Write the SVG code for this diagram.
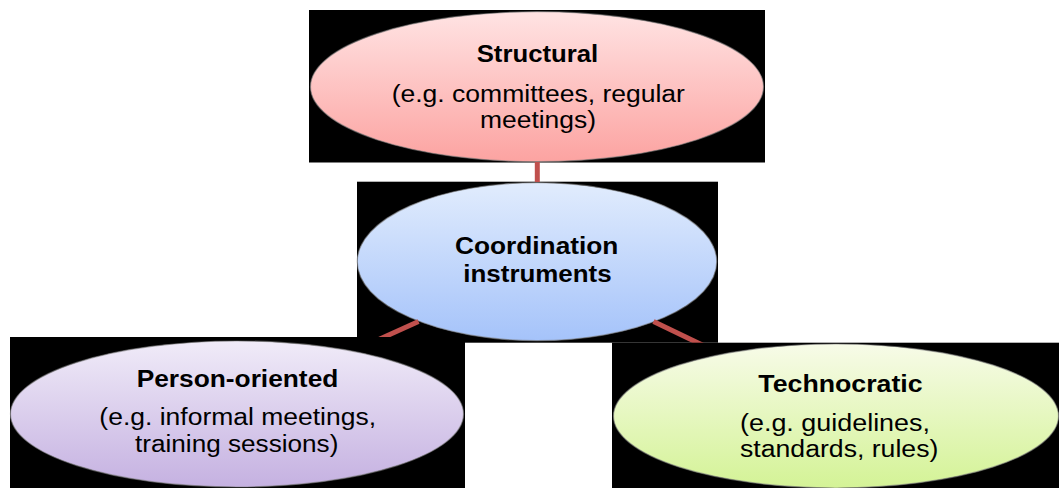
<svg xmlns="http://www.w3.org/2000/svg" width="1059" height="488" viewBox="0 0 1059 488">
  <style>
    .bg { fill: #000000; }
    .ell { stroke: #7f7f7f; stroke-opacity: 0.6; stroke-width: 1.2; }
    .title { font-family: "Liberation Sans", Arial, sans-serif; font-size: 23px; font-weight: bold; fill: #000; text-anchor: middle; }
    .sub { font-family: "Liberation Sans", Arial, sans-serif; font-size: 23px; fill: #000; text-anchor: middle; }
    .conn { stroke: #c0504d; stroke-width: 5; fill: none; }
  </style>
  <defs>
    <linearGradient id="gPink" x1="0" y1="0" x2="0" y2="1">
      <stop offset="0" stop-color="#ffe3e3"/>
      <stop offset="1" stop-color="#fca3a1"/>
    </linearGradient>
    <linearGradient id="gBlue" x1="0" y1="0" x2="0" y2="1">
      <stop offset="0" stop-color="#e1ecfd"/>
      <stop offset="1" stop-color="#a5c3fa"/>
    </linearGradient>
    <linearGradient id="gPurple" x1="0" y1="0" x2="0" y2="1">
      <stop offset="0" stop-color="#f0ebf8"/>
      <stop offset="1" stop-color="#c5b1e1"/>
    </linearGradient>
    <linearGradient id="gGreen" x1="0" y1="0" x2="0" y2="1">
      <stop offset="0" stop-color="#f7fbe8"/>
      <stop offset="1" stop-color="#d4f396"/>
    </linearGradient>
  </defs>

  <g id="node-structural">
    <rect class="bg" x="309" y="10" width="456" height="152.5"/>
    <ellipse class="ell" cx="537" cy="86.7" rx="226.5" ry="75" fill="url(#gPink)"/>
    <text class="title" x="537.5" y="62.3" textLength="121.6" lengthAdjust="spacingAndGlyphs">Structural</text>
    <text class="sub" x="538.3" y="101.7" textLength="293.3" lengthAdjust="spacingAndGlyphs">(e.g. committees, regular</text>
    <text class="sub" x="538" y="127.7" textLength="116" lengthAdjust="spacingAndGlyphs">meetings)</text>
  </g>

  <g id="node-coordination">
    <rect class="bg" x="357" y="181.7" width="361" height="161"/>
    <ellipse class="ell" cx="537" cy="261.7" rx="179.7" ry="79" fill="url(#gBlue)"/>
    <text class="title" x="536.7" y="254.3" textLength="163.3" lengthAdjust="spacingAndGlyphs">Coordination</text>
    <text class="title" x="537.5" y="281.7" textLength="148.3" lengthAdjust="spacingAndGlyphs">instruments</text>
  </g>

  <g id="connectors">
    <line class="conn" x1="537.3" y1="162" x2="537.3" y2="182"/>
    <line class="conn" x1="418.5" y1="321.5" x2="350" y2="352.5"/>
    <line class="conn" x1="653.5" y1="321.5" x2="720" y2="353.4"/>
  </g>

  <g id="node-person">
    <rect class="bg" x="10" y="337" width="455" height="151"/>
    <ellipse class="ell" cx="237" cy="414" rx="226.5" ry="73" fill="url(#gPurple)"/>
    <text class="title" x="237.5" y="386.7" textLength="201.7" lengthAdjust="spacingAndGlyphs">Person-oriented</text>
    <text class="sub" x="237.7" y="425" textLength="276.7" lengthAdjust="spacingAndGlyphs">(e.g. informal meetings,</text>
    <text class="sub" x="236.7" y="451.7" textLength="203.3" lengthAdjust="spacingAndGlyphs">training sessions)</text>
  </g>

  <g id="node-technocratic">
    <rect class="bg" x="612" y="342.7" width="447" height="145.3"/>
    <ellipse class="ell" cx="836" cy="416" rx="222.5" ry="72" fill="url(#gGreen)"/>
    <text class="title" x="840.5" y="391.7" textLength="164.3" lengthAdjust="spacingAndGlyphs">Technocratic</text>
    <text class="sub" x="835" y="431" textLength="190" lengthAdjust="spacingAndGlyphs">(e.g. guidelines,</text>
    <text class="sub" x="839.2" y="457" textLength="198.3" lengthAdjust="spacingAndGlyphs">standards, rules)</text>
  </g>
</svg>
